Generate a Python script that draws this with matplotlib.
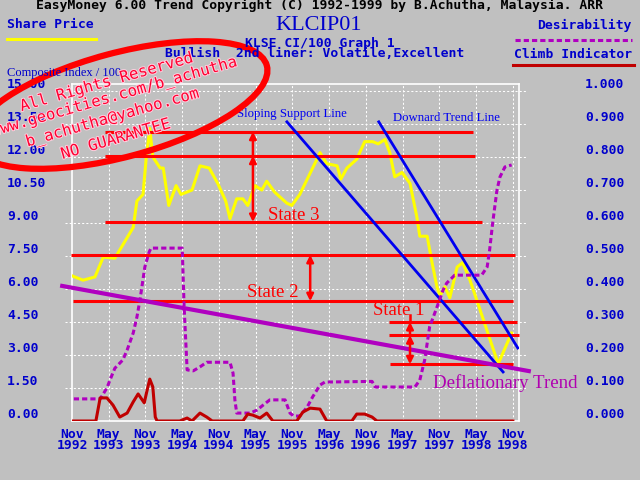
import numpy as np
import matplotlib
matplotlib.use('Agg')
import matplotlib.pyplot as plt
from matplotlib.patches import Ellipse
import matplotlib.patheffects as pe

# months counted from Nov 1992
price_month = [0, 1.8, 3.75, 5.1, 7.0, 10.0, 10.6, 11.6, 12.1, 12.7, 13.2, 14.4, 14.9, 15.8,
               17.0, 17.8, 19.6, 20.9, 22.4, 23.8, 25.1, 25.8, 26.9, 27.9, 28.7, 29.9, 31.0,
               31.8, 33.1, 35.1, 35.9, 37.2, 40.0, 40.5, 41.6, 43.3, 43.9, 44.9, 46.5, 47.8,
               49.1, 50.0, 51.1, 51.9, 52.7, 53.9, 55.2, 56.3, 56.8, 58.0, 58.8, 59.6, 60.1,
               60.9, 61.7, 62.9, 63.8, 65.0, 66.1, 69.6, 71.8]
price_val = [6.6, 6.4, 6.55, 7.45, 7.4, 8.8, 10.0, 10.3, 11.9, 13.3, 12.0, 11.5, 11.5, 9.8,
             10.7, 10.3, 10.5, 11.6, 11.5, 10.8, 10.0, 9.2, 10.1, 10.1, 9.8, 10.7, 10.5,
             10.9, 10.4, 9.9, 9.8, 10.3, 11.9, 12.2, 11.7, 11.6, 11.0, 11.5, 11.9, 12.7,
             12.7, 12.6, 12.8, 12.2, 11.1, 11.3, 10.8, 9.3, 8.4, 8.4, 7.2, 6.1, 5.7,
             6.1, 5.6, 7.0, 7.2, 6.4, 5.5, 2.6, 4.0]

desire_month = [0.3, 4.6, 5.7, 6.2, 7.0, 8.3, 9.0, 10.0, 10.6, 11.1, 11.9, 12.6, 12.9, 18.0,
                18.3, 18.8, 19.8, 20.9, 22.0, 25.8, 26.3, 26.6, 26.9, 29.1, 30.2, 31.2, 32.3,
                34.8, 35.6, 36.2, 37.2, 38.4, 39.3, 40.5, 41.3, 49.0, 49.5, 56.0, 56.8, 57.6,
                58.4, 59.6, 60.6, 61.2, 62.5, 66.9, 67.8, 68.2, 68.7, 69.4, 69.9, 70.7, 71.8]
desire_val = [0.067, 0.067, 0.10, 0.124, 0.16, 0.185, 0.215, 0.267, 0.315, 0.367, 0.467, 0.512,
              0.524, 0.524, 0.35, 0.155, 0.152, 0.164, 0.178, 0.178, 0.145, 0.064, 0.024, 0.024,
              0.033, 0.048, 0.064, 0.064, 0.024, 0.015, 0.015, 0.042, 0.073, 0.109, 0.118, 0.12,
              0.103, 0.103, 0.124, 0.185, 0.285, 0.345, 0.397, 0.418, 0.442, 0.442, 0.467,
              0.518, 0.6, 0.7, 0.74, 0.77, 0.776]

climb_month = [0, 3.9, 4.6, 5.7, 6.7, 7.8, 9.0, 10.0, 10.8, 11.8, 12.2, 12.7, 13.2, 13.6, 13.9,
               17.6, 18.8, 19.6, 20.9, 22.0, 22.9, 27.9, 28.7, 29.5, 30.7, 31.8, 32.8, 36.7,
               37.7, 38.9, 40.5, 41.6, 45.7, 46.5, 47.8, 49.0, 49.8, 72.0]
climb_val = [0, 0, 0.07, 0.07, 0.048, 0.012, 0.024, 0.058, 0.082, 0.055, 0.088, 0.127, 0.103,
             0.012, 0, 0, 0.009, 0, 0.024, 0.012, 0, 0, 0.021, 0.018, 0.009, 0.024, 0, 0,
             0.027, 0.039, 0.036, 0, 0, 0.021, 0.021, 0.012, 0, 0]

tick_months = list(range(0, 73, 6))
tick_labels = ['Nov\n1992', 'May\n1993', 'Nov\n1993', 'May\n1994', 'Nov\n1994', 'May\n1995',
               'Nov\n1995', 'May\n1996', 'Nov\n1996', 'May\n1997', 'Nov\n1997', 'May\n1998',
               'Nov\n1998']

# hand drawn state levels (composite index / 100)
levels = [13.15, 12.06, 9.05, 7.55, 5.45, 4.5, 3.9, 2.58]
level_start = [5.4, 5.4, 5.4, -0.2, 0.2, 51.8, 51.8, 51.9]
level_end = [65.5, 65.8, 66.9, 72.3, 72.0, 72.7, 73.0, 72.0]

support_x, support_y = [35.1, 70.4], [13.6, 2.23]
downtrend_x, downtrend_y = [50.1, 72.8], [13.6, 3.32]
deflation_x, deflation_y = [-1.6, 74.6], [6.14, 2.27]

BG = '#C0C0C0'
BLUE = '#0000CC'
MONO = 'DejaVu Sans Mono'
SERIF = 'Liberation Serif'

fig = plt.figure(figsize=(6.4, 4.8), dpi=100, facecolor=BG)
ax = fig.add_axes([72/640, 59/480, 447/640, 337/480])
ax.set_facecolor(BG)
ax.set_xlim(0, 73.0)
ax.set_ylim(0, 15.32)

for s in ax.spines.values():
    s.set_color('white')
    s.set_linewidth(1.2)

left_ticks = np.arange(0, 15.01, 1.5)
ax.set_yticks(left_ticks, ['%.2f' % v for v in left_ticks], ha='left', va='bottom',
              family=MONO, weight='bold', color=BLUE, fontsize=9.4)
ax.tick_params(axis='y', length=0, pad=46.8)
ax.set_xticks(tick_months, tick_labels, family=MONO, weight='bold', color=BLUE,
              fontsize=9.4, linespacing=0.8)
ax.tick_params(axis='x', length=0, pad=5)

ax.hlines(left_ticks[1:], -1.2, 74.3, colors='white', lw=0.75, linestyles=(0, (2, 2)),
          clip_on=False, zorder=1)
ax.vlines(tick_months[1:], 0, 15.32, colors='white', lw=0.75, linestyles=(0, (2, 2)), zorder=1)

ax.plot(price_month, price_val, color='#FFFF00', lw=2.2, zorder=3)
ax.hlines(levels, level_start, level_end, colors='#FF0000', lw=2.2, zorder=4, clip_on=False)
ax.plot(support_x, support_y, color='#0000F0', lw=2, zorder=5)
ax.plot(downtrend_x, downtrend_y, color='#0000F0', lw=2, zorder=5)
ax.plot(deflation_x, deflation_y, color='#B000C0', lw=3, zorder=5, clip_on=False)

arrow = dict(arrowstyle='<|-|>', color='#FF0000', lw=1.8, mutation_scale=10,
             shrinkA=0, shrinkB=0)
single = dict(arrow, arrowstyle='-|>')
ax.annotate('', xy=(29.55, levels[1]), xytext=(29.55, levels[2]), arrowprops=arrow, zorder=6)
ax.annotate('', xy=(29.55, levels[0]), xytext=(29.55, levels[1]), arrowprops=single, zorder=6)
ax.annotate('', xy=(38.9, levels[3]), xytext=(38.9, levels[4]), arrowprops=arrow, zorder=6)
ax.annotate('', xy=(55.2, levels[6]), xytext=(55.2, levels[7]), arrowprops=arrow, zorder=6)
ax.annotate('', xy=(55.2, levels[5]), xytext=(55.2, levels[6]), arrowprops=single, zorder=6)
ax.plot([55.2, 55.2], [levels[5], 4.8], color='#FF0000', lw=1.8, zorder=6)

ax.text(26.9, 13.8, 'Sloping Support Line', family=SERIF, fontsize=9.2, color='#0000F0')
ax.text(52.4, 13.64, 'Downard Trend Line', family=SERIF, fontsize=9.2, color='#0000F0')
ax.text(32.0, 9.14, 'State 3', family=SERIF, fontsize=13.5, color='#FF0000')
ax.text(28.6, 5.64, 'State 2', family=SERIF, fontsize=13.5, color='#FF0000')
ax.text(49.1, 4.82, 'State 1', family=SERIF, fontsize=13.5, color='#FF0000')
ax.text(58.9, 1.5, 'Deflationary Trend', family=SERIF, fontsize=13.6, color='#B000B0')

ax2 = ax.twinx()
ax2.set_ylim(0, 15.32 / 15)
right_ticks = np.arange(0, 1.001, 0.1)
ax2.set_yticks(right_ticks, ['%.3f' % v for v in right_ticks], va='bottom',
               family=MONO, weight='bold', color=BLUE, fontsize=9.4)
ax2.tick_params(axis='y', length=0, pad=47.5)
for s in ax2.spines.values():
    s.set_visible(False)
ax2.plot(desire_month, desire_val, color='#B000C0', lw=2.2, linestyle=(0, (1.7, 1)), zorder=3)
ax2.plot(climb_month, climb_val, color='#C00000', lw=2.2, zorder=3)

# header, legend and watermark in pixel coordinates
ov = fig.add_axes([0, 0, 1, 1])
ov.set_xlim(0, 640)
ov.set_ylim(480, 0)
ov.axis('off')

mono = dict(family=MONO, weight='bold', fontsize=9.4, va='center')
ov.text(320, 5.5, 'EasyMoney 6.00 Trend Copyright (C) 1992-1999 by B.Achutha, Malaysia. ARR',
        ha='center', color='black', **mono)
ov.text(7, 24, 'Share Price', ha='left', color=BLUE, **mono)
ov.plot([7, 96], [39, 39], color='#FFFF00', lw=2.2)
ov.text(319, 25, 'KLCIP01', ha='center', va='center', family=SERIF, fontsize=16, color=BLUE)
ov.text(245, 43.5, 'KLSE CI/100 Graph 1', ha='left', color=BLUE, **mono)
ov.text(165, 53.5, 'Bullish  2nd liner: Volatile,Excellent', ha='left', color=BLUE, **mono)
ov.text(632, 25.5, 'Desirability', ha='right', color=BLUE, **mono)
ov.plot([515, 632], [40, 40], color='#B000C0', lw=2.2, linestyle=(0, (1.7, 1)))
ov.text(632, 54, 'Climb Indicator', ha='right', color=BLUE, **mono)
ov.plot([513, 634], [65, 65], color='#C00000', lw=2.2)
ov.text(7, 73, 'Composite Index / 100', ha='left', va='center', family=SERIF, fontsize=9,
        color=BLUE)

ov.add_patch(Ellipse((120, 105), 304, 104, angle=-15, fill=False, ec='#FF0000', lw=4.5))
halo = [pe.withStroke(linewidth=1.4, foreground='#FFD0E0')]
wm = ['All Rights Reserved', 'www.geocities.com/b_achutha', 'b_achutha@yahoo.com', 'NO GUARANTEE']
wm_pos = [(107, 82), (115, 97), (113, 118), (116, 139)]
for t, (x, y) in zip(wm, wm_pos):
    ov.text(x, y, t, ha='center', va='center', rotation=16, rotation_mode='anchor',
            family=MONO, fontsize=11.3, color='#FF0030', path_effects=halo)

fig.savefig('out.png', dpi=100, facecolor=BG)
